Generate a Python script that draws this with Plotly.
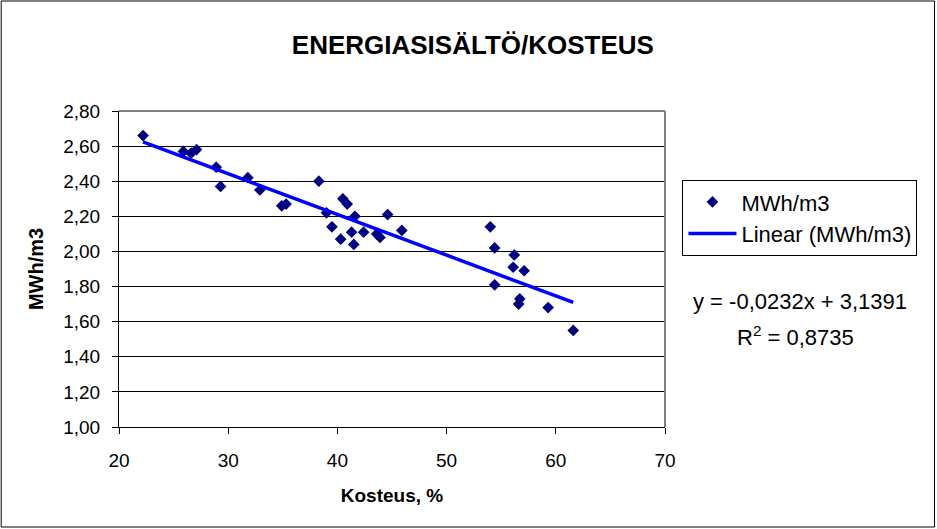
import plotly.graph_objects as go

# Data
kosteus = [22.2, 25.9, 26.6, 27.1, 28.9, 29.3, 31.8, 32.9, 34.9, 35.3,
           38.3, 40.5, 40.9, 39.0, 41.6, 44.6, 39.5, 42.4, 41.3, 40.3,
           41.5, 43.6, 43.9, 45.9, 54.0, 54.4, 56.2, 56.1, 57.1, 54.4,
           56.7, 56.6, 59.3, 61.6]
mwh = [2.66, 2.57, 2.56, 2.58, 2.48, 2.37, 2.42, 2.35, 2.26, 2.27,
       2.40, 2.30, 2.27, 2.22, 2.20, 2.21, 2.14, 2.11, 2.11, 2.07,
       2.04, 2.10, 2.08, 2.12, 2.14, 2.02, 1.98, 1.91, 1.89, 1.81,
       1.73, 1.70, 1.68, 1.55]

# Trendline coefficients as displayed on the chart
slope = -0.0232
intercept = 3.1391
r2 = 0.8735

x_ticks = [20, 30, 40, 50, 60, 70]
y_ticks = [1.0, 1.2, 1.4, 1.6, 1.8, 2.0, 2.2, 2.4, 2.6, 2.8]

FONT = "Liberation Sans, Arial, sans-serif"

xmin, xmax = min(kosteus), max(kosteus)
trend_x = [xmin, xmax]
trend_y = [intercept + slope * v for v in trend_x]

fig = go.Figure()
fig.add_trace(go.Scatter(
    x=kosteus, y=mwh, mode="markers", name="MWh/m3",
    marker=dict(symbol="diamond", size=9, color="#000080",
                line=dict(width=0)),
))
fig.add_trace(go.Scatter(
    x=trend_x, y=trend_y, mode="lines", name="Linear (MWh/m3)",
    line=dict(color="#0000FF", width=3.5),
))

W, H = 937, 529
L, R, T, B = 118.5, 665.5, 110.7, 427.3
pw, ph = R - L, B - T

def px(xp):
    return (xp - L) / pw

def py(yp):
    return (B - yp) / ph

fig.update_layout(
    width=W, height=H,
    margin=dict(l=L, r=W - R, t=T, b=H - B, pad=0),
    paper_bgcolor="white", plot_bgcolor="white",
    separators=", ",
    font=dict(family=FONT, size=19, color="black"),
    title=dict(text="<b>ENERGIASISÄLTÖ/KOSTEUS</b>", x=px(473), xanchor="center",
               y=1 - 45 / H, yanchor="middle", xref="paper",
               font=dict(family=FONT, size=26, color="black")),
    showlegend=True,
    legend=dict(x=px(683), y=py(180), xanchor="left", yanchor="top",
                bordercolor="black", borderwidth=1, bgcolor="white",
                font=dict(family=FONT, size=22, color="black"),
                itemwidth=48, tracegroupgap=0),
    xaxis=dict(range=[20, 70], tickvals=x_ticks, ticktext=[str(v) for v in x_ticks],
               showgrid=False, zeroline=False, showline=True, linecolor="black",
               linewidth=1, ticks="outside", ticklen=6, tickcolor="black",
               tickfont=dict(size=19), ticklabelstandoff=10,
               title=dict(text="<b>Kosteus, %</b>", font=dict(size=19), standoff=18)),
    yaxis=dict(range=[1.0, 2.8], tickvals=y_ticks,
               ticktext=[f"{v:.2f}".replace(".", ",") for v in y_ticks],
               showgrid=True, gridcolor="black", gridwidth=1, zeroline=False,
               showline=True, linecolor="black", linewidth=1,
               ticks="outside", ticklen=6, tickcolor="black",
               tickfont=dict(size=19), ticklabelstandoff=8,
               title=dict(text="<b>MWh/m3</b>", font=dict(size=20), standoff=14)),
    shapes=[
        dict(type="line", xref="paper", yref="paper", x0=0, x1=1, y0=1, y1=1,
             line=dict(color="#808080", width=2), layer="above"),
        dict(type="line", xref="paper", yref="paper", x0=1, x1=1, y0=0, y1=1,
             line=dict(color="#808080", width=2), layer="above"),
        dict(type="rect", xref="paper", yref="paper",
             x0=px(0.5), x1=px(W - 1.5), y0=py(H - 1.5), y1=py(0.5),
             line=dict(color="black", width=1), layer="below"),
    ],
    annotations=[
        dict(text=f"y = {slope:.4f}x + {intercept:.4f}".replace(".", ","),
             xref="paper", yref="paper", x=px(801), y=py(302),
             xanchor="center", yanchor="middle", showarrow=False,
             font=dict(family=FONT, size=22, color="black")),
        dict(text=f"R<sup>2</sup> = {r2:.4f}".replace(".", ","),
             xref="paper", yref="paper", x=px(796), y=py(336),
             xanchor="center", yanchor="middle", showarrow=False,
             font=dict(family=FONT, size=22, color="black")),
    ],
)

fig.write_html("out.html")
